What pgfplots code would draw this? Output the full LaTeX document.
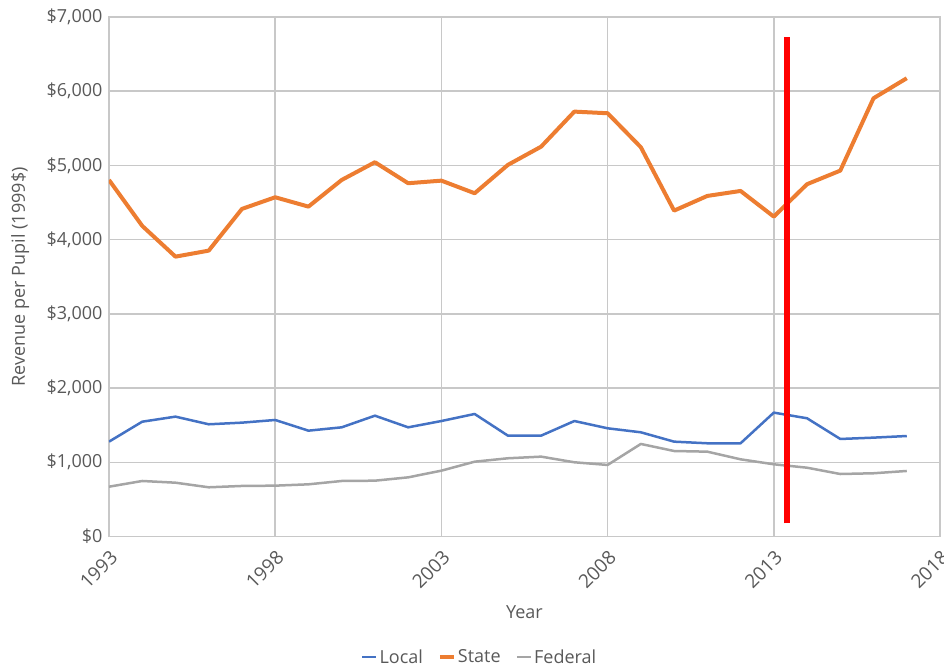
\documentclass[border=0pt]{standalone}
\usepackage{fontspec}
\setmainfont{Open Sans}
\usepackage{pgfplots}
\pgfplotsset{compat=1.18}

\definecolor{localc}{HTML}{4472C4}
\definecolor{statec}{HTML}{ED7D31}
\definecolor{fedc}{HTML}{A5A5A5}
\definecolor{gridc}{HTML}{C8C8C8}
\definecolor{textc}{HTML}{595959}

\begin{document}
\begin{tikzpicture}[x=1pt,y=1pt]
\begin{axis}[
  at={(0,0)}, anchor=south west,
  scale only axis,
  width=831pt, height=519.5pt,
  xmin=1993, xmax=2018,
  ymin=0, ymax=7000,
  xtick={1993,1998,2003,2008,2013,2018},
  ytick={0,1000,...,7000},
  yticklabels={{\$0},{\$1,000},{\$2,000},{\$3,000},{\$4,000},{\$5,000},{\$6,000},{\$7,000}},
  /pgf/number format/assume math mode=true,
  /pgf/number format/1000 sep={},
  major tick length=0pt,
  grid=major,
  major grid style={gridc, line width=1.5pt},
  axis line style={gridc, line width=1.5pt},
  tick label style={font=\fontsize{18}{20}\selectfont, text=textc},
  xticklabel style={font=\fontsize{19}{21}\selectfont, rotate=45, anchor=north east, inner sep=9pt},
  yticklabel style={anchor=east, xshift=-3pt},
  xlabel={Year},
  ylabel={Revenue per Pupil (1999\$)},
  label style={font=\fontsize{18}{20}\selectfont, text=textc},
  xlabel style={at={(axis description cs:0.5,-0.145)}, anchor=center},
  ylabel style={at={(axis description cs:-0.107,0.5)}, anchor=center},
  legend style={at={(axis description cs:0.446,-0.232)}, anchor=center,
    draw=none, fill=none, legend columns=-1,
    font=\fontsize{18}{20}\selectfont, text=textc,
    nodes={inner xsep=2pt},
    /tikz/every even column/.append style={column sep=13pt}},
  legend image code/.code={\draw[#1] (0pt,0pt) -- (14pt,0pt);},
  legend cell align=left,
]
\addplot[localc, line width=2.5pt, line join=round] coordinates {
  (1993,1278) (1994,1547) (1995,1615) (1996,1512) (1997,1534)
  (1998,1570) (1999,1426) (2000,1471) (2001,1628) (2002,1471)
  (2003,1556) (2004,1651) (2005,1359) (2006,1359) (2007,1556)
  (2008,1458) (2009,1404) (2010,1278) (2011,1256) (2012,1256)
  (2013,1669) (2014,1593) (2015,1314) (2016,1332) (2017,1354)};
\addplot[statec, line width=4pt, line join=round] coordinates {
  (1993,4804) (1994,4185) (1995,3771) (1996,3852) (1997,4414)
  (1998,4571) (1999,4445) (2000,4804) (2001,5043) (2002,4760)
  (2003,4795) (2004,4625) (2005,5007) (2006,5253) (2007,5725)
  (2008,5703) (2009,5245) (2010,4391) (2011,4589) (2012,4656)
  (2013,4310) (2014,4747) (2015,4930) (2016,5905) (2017,6175)};
\addplot[fedc, line width=2.5pt, line join=round] coordinates {
  (1993,671) (1994,748) (1995,725) (1996,663) (1997,681)
  (1998,685) (1999,703) (2000,748) (2001,752) (2002,797)
  (2003,887) (2004,1008) (2005,1054) (2006,1076) (2007,1000)
  (2008,964) (2009,1247) (2010,1152) (2011,1143) (2012,1040)
  (2013,973) (2014,927) (2015,842) (2016,852) (2017,883)};
\addplot[red, line width=6pt, forget plot] coordinates {(2013.4,178) (2013.4,6727)};
\legend{Local,State,Federal}
\end{axis}
\pgfresetboundingbox
\path (-109pt,-131.5pt) rectangle (835pt,536.5pt);
\end{tikzpicture}
\end{document}
